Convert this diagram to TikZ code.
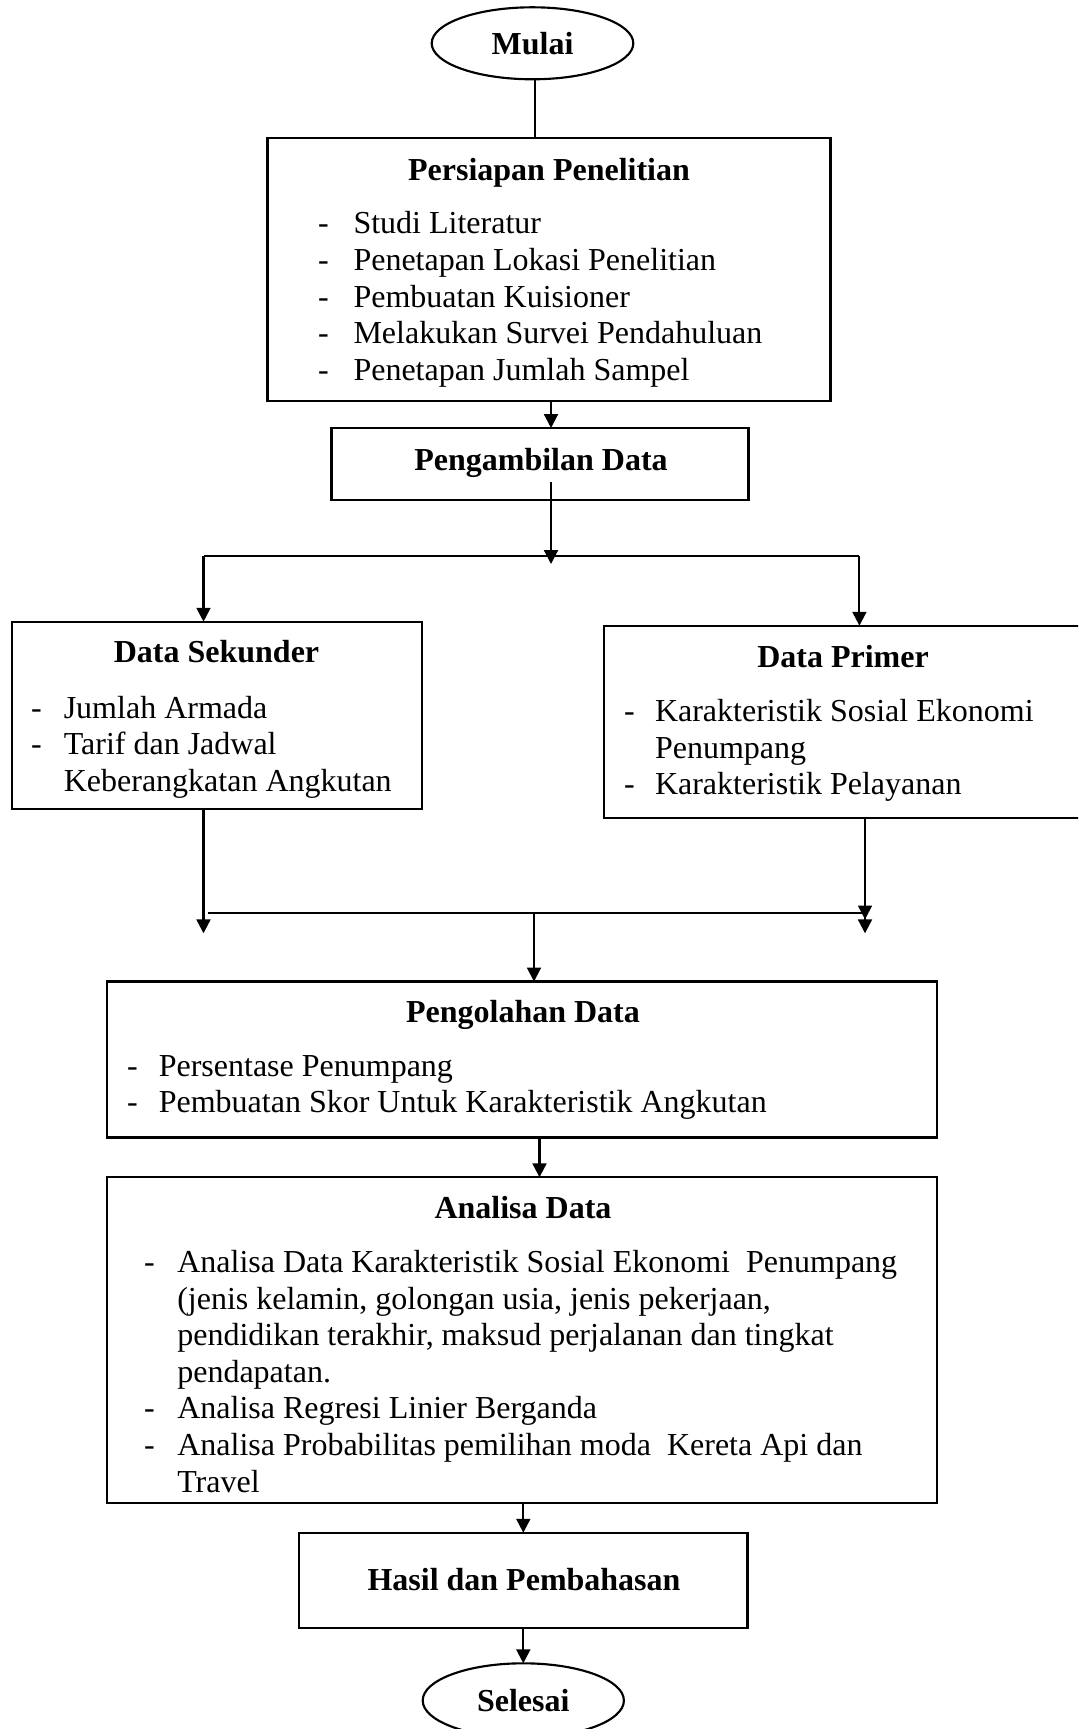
\documentclass[tikz,border=0pt]{standalone}
\usepackage{fontspec}
\setmainfont{Liberation Serif}
\usepackage{array}
\usetikzlibrary{arrows.meta,shapes.geometric,fit}
\tikzset{
  box/.style={draw, rectangle, line width=0.8pt, inner sep=0pt, outer sep=0pt},
  term/.style={draw, ellipse, line width=0.8pt, inner sep=0pt, outer sep=0pt, font=\bfseries},
  ttl/.style={anchor=base, inner sep=0pt, font=\bfseries},
  lst/.style={anchor=base west, inner sep=0pt, align=left},
  conn/.style={line width=0.8pt},
  arr/.style={conn, -{Triangle[length=5.2pt,width=5.2pt]}},
  darr/.style={conn, -{Triangle[length=5.2pt,width=5.2pt] Triangle[length=5.2pt,width=5.2pt]}}
}
\begin{document}
\fontsize{12pt}{13.72pt}\selectfont
\begin{tikzpicture}[x=0.375pt,y=-0.375pt]
\useasboundingbox (0,0) rectangle (1078,1729);
\clip (0,0) rectangle (1078,1729);
% terminals and boxes
\node[term, minimum width=75.6pt, minimum height=27pt] (mulai) at (532.5,43.3) {Mulai};
\node[box, fit={(267.5,137.7) (830.5,401)}] (persiapan) {};
\node[ttl] (tPersiapan) at (549,181) {Persiapan Penelitian};
\node[lst] (lPersiapan) at (317.7,234) {\begin{tabular}[t]{@{}p{13.24pt}@{}l@{}}
-&Studi Literatur\\
-&Penetapan Lokasi Penelitian\\
-&Pembuatan Kuisioner\\
-&Melakukan Survei Pendahuluan\\
-&Penetapan Jumlah Sampel\end{tabular}};
\node[box, fit={(331.5,428) (748.5,500)}] (ambil) {};
\node[ttl] (tAmbil) at (541,471) {Pengambilan Data};
\node[box, fit={(11.7,621.7) (422.1,809)}] (sekunder) {};
\node[ttl] (tSekunder) at (216.5,662) {Data Sekunder};
\node[lst] (lSekunder) at (30.5,718) {\begin{tabular}[t]{@{}p{12.3pt}@{}l@{}}
-&Jumlah Armada\\
-&Tarif dan Jadwal\\
&Keberangkatan Angkutan\end{tabular}};
\node[box, fit={(603.6,625.7) (1083,817.7)}] (primer) {};
\node[ttl] (tPrimer) at (843,667) {Data Primer};
\node[lst] (lPrimer) at (623.7,721.5) {\begin{tabular}[t]{@{}p{11.55pt}@{}l@{}}
-&Karakteristik Sosial Ekonomi\\
&Penumpang\\
-&Karakteristik Pelayanan\end{tabular}};
\node[box, fit={(107.3,981.5) (937,1137.5)}] (olah) {};
\node[ttl] (tOlah) at (523,1022.5) {Pengolahan Data};
\node[lst] (lOlah) at (126.7,1076) {\begin{tabular}[t]{@{}p{11.85pt}@{}l@{}}
-&Persentase Penumpang\\
-&Pembuatan Skor Untuk Karakteristik Angkutan\end{tabular}};
\node[box, fit={(107.3,1177.3) (937,1502.7)}] (analisa) {};
\node[ttl] (tAnalisa) at (523,1218.3) {Analisa Data};
\node[lst] (lAnalisa) at (143.7,1272.5) {\begin{tabular}[t]{@{}p{12.4pt}@{}l@{}}
-&Analisa Data Karakteristik Sosial Ekonomi\ \ Penumpang\\
&(jenis kelamin, golongan usia, jenis pekerjaan,\\
&pendidikan terakhir, maksud perjalanan dan tingkat\\
&pendapatan.\\
-&Analisa Regresi Linier Berganda\\
-&Analisa Probabilitas pemilihan moda\ \ Kereta Api dan\\
&Travel\end{tabular}};
\node[box, fit={(299.3,1532.7) (747.5,1628.3)}] (hasil) {};
\node[ttl] (tHasil) at (524,1590) {Hasil dan Pembahasan};
\node[term, minimum width=75.45pt, minimum height=27.9pt] (selesai) at (523.3,1700.5) {Selesai};
% helper coordinates
\coordinate (xA) at (551,0);
\coordinate (sA) at (551,482);
\coordinate (sB) at (551,564);
\coordinate (hL) at (203.5,556.3);
\coordinate (hR) at (859.4,556.3);
\coordinate (jL) at (203.5,933.3);
\coordinate (jR) at (865,933.3);
\coordinate (mL) at (208,913.3);
\coordinate (mR) at (865,913.3);
\coordinate (mM) at (534,913.3);
\coordinate (xB) at (539.5,0);
\coordinate (xC) at (523.3,0);
\coordinate (xM) at (535,0);
% connectors
\draw[conn] (mulai.south -| xM) -- (persiapan.north -| xM);
\draw[arr] (persiapan.south -| xA) -- (ambil.north -| xA);
\draw[arr] (sA) -- (sB);
\draw[conn] (hL) -- (hR);
\draw[arr] (hL) -- (hL |- sekunder.north);
\draw[arr] (hR) -- (hR |- primer.north);
\draw[arr] (jL |- sekunder.south) -- (jL);
\draw[darr] (jR |- primer.south) -- (jR);
\draw[conn] (mL) -- (mR);
\draw[arr] (mM) -- (mM |- olah.north);
\draw[arr] (olah.south -| xB) -- (analisa.north -| xB);
\draw[arr] (analisa.south -| xC) -- (hasil.north -| xC);
\draw[arr] (hasil.south -| xC) -- (selesai.north);
\end{tikzpicture}
\end{document}
